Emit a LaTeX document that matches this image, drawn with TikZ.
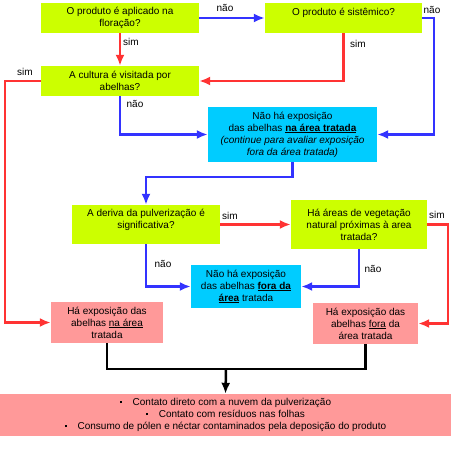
\documentclass[tikz,border=0pt]{standalone}
\usepackage{fontspec}
\setmainfont{Liberation Sans}
\usepackage{tikz}
\usetikzlibrary{arrows.meta}
\definecolor{qcol}{HTML}{CCFF00}
\definecolor{ncol}{HTML}{00CCFF}
\definecolor{ecol}{HTML}{FF9999}
\definecolor{simcol}{HTML}{FF3333}
\definecolor{naocol}{HTML}{3333FF}

\begin{document}
\begin{tikzpicture}[x=1pt,y=-1pt,
every node/.style={font=\fontsize{10}{12}\selectfont,align=center,inner sep=0pt},
qbox/.style={rectangle,fill=qcol},
nbox/.style={rectangle,fill=ncol},
ebox/.style={rectangle,fill=ecol},
lbl/.style={inner sep=0pt},
simarrow/.style={draw=simcol,line width=2.5pt,-{Latex[length=11pt,width=9pt]}},
naoarrow/.style={draw=naocol,line width=2.5pt,-{Latex[length=11pt,width=9pt]}},
pretoarrow/.style={draw=black,line width=2.5pt,-{Latex[length=11pt,width=9pt]}}]
\useasboundingbox (0,0) rectangle (462,448);
% caixas
\node[qbox,minimum width=158,minimum height=30] (q1) at (120,18) {O produto é aplicado na\\floração?};
\node[qbox,minimum width=157,minimum height=30] (q2) at (343.5,18) {O produto é sistêmico?\\\mbox{}};
\node[qbox,minimum width=158,minimum height=30] (q3) at (120,81) {A cultura é visitada por\\abelhas?};
\node[nbox,minimum width=169,minimum height=55] (n1) at (292.5,134.5) {Não há exposição\\das abelhas \underline{\textbf{na área tratada}}\\\textit{(continue para avaliar exposição}\\\textit{fora da área tratada)}};
\node[qbox,minimum width=148,minimum height=39] (q4) at (146,224.5) {A deriva da pulverização é\\significativa?\\\mbox{}};
\node[qbox,minimum width=136,minimum height=49] (q5) at (359,224.5) {Há áreas de vegetação\\natural próximas à area\\tratada?};
\node[nbox,minimum width=110,minimum height=43] (n2) at (246,286.5) {Não há exposição\\das abelhas \underline{\textbf{fora da}}\\\underline{\textbf{área}} tratada};
\node[ebox,minimum width=112,minimum height=41] (e1) at (107,322.5) {Há exposição das\\abelhas \underline{na área}\\tratada};
\node[ebox,minimum width=105,minimum height=41] (e2) at (365.5,323.5) {Há exposição das\\abelhas \underline{fora} da\\área tratada};
\node[ebox,minimum width=451,minimum height=42] (res) at (225.5,415) {\raisebox{2.5pt}{\rule{1.8pt}{1.8pt}}\hspace{11pt}Contato direto com a nuvem da pulverização\\\raisebox{2.5pt}{\rule{1.8pt}{1.8pt}}\hspace{11pt}Contato com resíduos nas folhas\\\raisebox{2.5pt}{\rule{1.8pt}{1.8pt}}\hspace{11pt}Consumo de pólen e néctar contaminados pela deposição do produto};
% setas
\draw[naoarrow] (q1.east) -- (q2.west);
\draw[simarrow] (q1.south) -- (q3.north);
\draw[naoarrow] (q2.east) -- ++(12,0) |- (n1.east);
\draw[simarrow] (q2.south) |- (q3.east);
\draw[naoarrow] (q3.south) |- (n1.west);
\draw[simarrow] (q3.west) -- ++(-36,0) |- (e1.west);
\draw[naoarrow] (n1.south) -- ++(0,15) -| (q4.north);
\draw[simarrow] (q4.east) -- (q5.west);
\draw[naoarrow] (q4.south) |- (n2.west);
\draw[naoarrow] (q5.south) |- (n2.east);
\draw[simarrow] (q5.east) -- ++(21,0) |- (e2.east);
\coordinate (junta) at (226,369);
\draw[line width=2.5pt] (e1.south) |- (junta) -| (e2.south);
\draw[pretoarrow] (junta) -- (res.north);
% rotulos
\node[lbl] (l1) at (225,8) {não};
\node[lbl] (l2) at (432,10) {não};
\node[lbl] (l3) at (131,42) {sim};
\node[lbl] (l4) at (25,72) {sim};
\node[lbl] (l5) at (135,104) {não};
\node[lbl] (l6) at (358,44) {sim};
\node[lbl] (l7) at (230,216) {sim};
\node[lbl] (l8) at (437,215) {sim};
\node[lbl] (l9) at (163,264) {não};
\node[lbl] (l10) at (373,269) {não};
\end{tikzpicture}
\end{document}
